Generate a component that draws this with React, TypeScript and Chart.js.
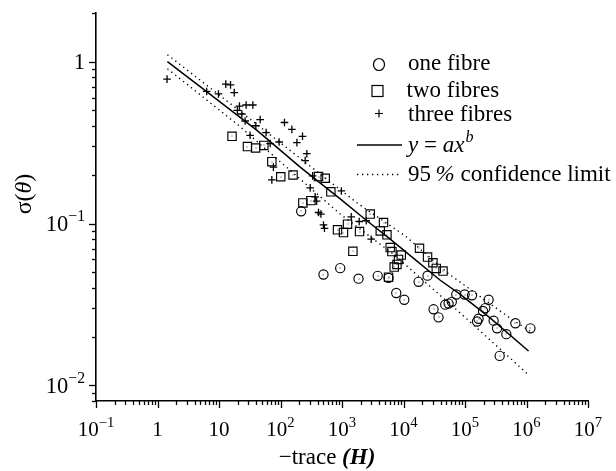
import React, { useEffect, useRef } from 'react';
import { Chart, registerables } from 'chart.js';

Chart.register(...registerables);

// ---- data ----
const oneFibreX = [217, 500, 935, 1855, 3810, 5710, 7620, 10300, 17600, 24600, 30800, 37100, 47700, 54100, 61000, 72100, 98600, 130000, 242000, 214000, 196000, 166000, 157000, 292000, 332000, 470000, 659000, 1160000, 366000];
const oneFibreY = [0.119, 0.0484, 0.053, 0.0456, 0.0475, 0.0461, 0.0372, 0.0338, 0.0436, 0.0476, 0.0295, 0.0263, 0.0315, 0.032, 0.0328, 0.0364, 0.0364, 0.036, 0.0338, 0.030, 0.0288, 0.0258, 0.0248, 0.0251, 0.0225, 0.0207, 0.0242, 0.0225, 0.0152];

const twoFibresX = [16.3, 29, 39.4, 53.6, 72.3, 101, 160, 415, 533, 659, 231, 312, 2877, 1230, 845, 1057, 1928, 1503, 4730, 4190, 5380, 6080, 6480, 9190, 8300, 7820, 7060, 5710, 18200, 24600, 30100, 34100, 43900];
const twoFibresY = [0.346, 0.299, 0.293, 0.304, 0.241, 0.1945, 0.1995, 0.195, 0.1905, 0.157, 0.134, 0.1385, 0.1144, 0.099, 0.0914, 0.0879, 0.0892, 0.0673, 0.1014, 0.090, 0.0851, 0.071, 0.0671, 0.0638, 0.060, 0.0559, 0.0538, 0.0466, 0.0703, 0.062, 0.0572, 0.0528, 0.0508];

const threeFibresX = [1.43, 6.3, 9.8, 12.9, 15.4, 17.7, 21.5, 27.6, 35.5, 19.9, 23.5, 26.6, 46.7, 39.7, 58.3, 32, 116, 153, 228, 185, 95, 268, 252, 76.7, 72.3, 333, 304, 977, 366, 387, 415, 454, 500, 519, 1413, 1905, 2477, 2985, 68];
const threeFibresY = [0.78, 0.655, 0.632, 0.727, 0.719, 0.644, 0.532, 0.54, 0.54, 0.50, 0.475, 0.43, 0.439, 0.402, 0.365, 0.351, 0.421, 0.382, 0.346, 0.316, 0.319, 0.27, 0.245, 0.223, 0.186, 0.197, 0.166, 0.159, 0.146, 0.1375, 0.117, 0.1144, 0.098, 0.0934, 0.110, 0.1029, 0.104, 0.080, 0.312];

const fitX = [1.45, 6.3, 41, 209, 935, 2540, 6080, 16560, 39600, 83800, 258000, 1080000];
const fitY = [1.0, 0.653, 0.378, 0.223, 0.142, 0.104, 0.080, 0.0586, 0.0446, 0.0365, 0.026, 0.0163];

const upperX = [1.45, 20.7, 1855, 10700, 54100, 513000, 1160000];
const upperY = [1.105, 0.503, 0.132, 0.0838, 0.0489, 0.0264, 0.0215];

const lowerX = [1.45, 20.7, 935, 6890, 81700, 513000, 1120000];
const lowerY = [0.905, 0.405, 0.1144, 0.0645, 0.0282, 0.01502, 0.01145];

const xTickValues = [0.1, 1, 10, 100, 1e3, 1e4, 1e5, 1e6, 1e7];
const xTickLabels = ['10^\u22121', '1', '10', '10^2', '10^3', '10^4', '10^5', '10^6', '10^7'];
const yTickValues = [0.01, 0.1, 1];
const yTickLabels = ['10^\u22122', '10^\u22121', '1'];

const legendLabels = ['one fibre', 'two fibres', 'three fibres', 'y = ax^b', '95 % confidence limit'];

const FONT = "'Liberation Serif', 'Times New Roman', serif";

const pts = (xs: number[], ys: number[]) => xs.map((x, i) => ({ x, y: ys[i] }));

function drawSupLabel(ctx: CanvasRenderingContext2D, label: string, x: number, baseline: number, align: 'center' | 'right', fs: number) {
  const [base, exp] = label.split('^');
  ctx.font = `${fs}px ${FONT}`;
  const wb = ctx.measureText(base).width;
  const efs = fs * 0.7;
  let we = 0;
  if (exp) {
    ctx.font = `${efs}px ${FONT}`;
    we = ctx.measureText(exp).width;
  }
  const total = wb + we;
  const start = align === 'center' ? x - total / 2 : x - total;
  ctx.textAlign = 'left';
  ctx.textBaseline = 'alphabetic';
  ctx.font = `${fs}px ${FONT}`;
  ctx.fillText(base, start, baseline);
  if (exp) {
    ctx.font = `${efs}px ${FONT}`;
    ctx.fillText(exp, start + wb, baseline - fs * 0.42);
  }
}

function drawRuns(ctx: CanvasRenderingContext2D, runs: { t: string; f: string }[], x: number, baseline: number, align: 'left' | 'center') {
  let total = 0;
  const widths = runs.map((r) => {
    ctx.font = r.f;
    const w = ctx.measureText(r.t).width;
    total += w;
    return w;
  });
  let cx = align === 'center' ? x - total / 2 : x;
  ctx.textAlign = 'left';
  ctx.textBaseline = 'alphabetic';
  runs.forEach((r, i) => {
    ctx.font = r.f;
    ctx.fillText(r.t, cx, baseline);
    cx += widths[i];
  });
  return cx;
}

const overlayPlugin = {
  id: 'overlay',
  afterDraw(chart: any) {
    const ctx: CanvasRenderingContext2D = chart.ctx;
    const xs = chart.scales.x;
    const ys = chart.scales.y;
    const area = chart.chartArea;
    ctx.save();
    ctx.strokeStyle = '#000';
    ctx.fillStyle = '#000';

    // centre dots of circle/square markers
    [0, 1].forEach((di) => {
      const meta = chart.getDatasetMeta(di);
      meta.data.forEach((el: any) => {
        ctx.fillStyle = '#333';
        ctx.fillRect(Math.round(el.x) - 0.5, Math.round(el.y) - 0.5, 1, 1);
      });
    });
    ctx.fillStyle = '#000';

    // axis ticks
    ctx.lineWidth = 1.3;
    const xMin = xs.min, xMax = xs.max, yMin = ys.min, yMax = ys.max;
    for (let d = -1; d <= 7; d++) {
      for (let m = 1; m <= 9; m++) {
        const v = m * Math.pow(10, d);
        if (v < xMin * 0.999 || v > xMax * 1.001) continue;
        const px = Math.round(xs.getPixelForValue(v)) + 0.5;
        const len = m === 1 ? 7 : 4;
        ctx.beginPath();
        ctx.moveTo(px, area.bottom);
        ctx.lineTo(px, area.bottom + len);
        ctx.stroke();
      }
    }
    for (let d = -3; d <= 0; d++) {
      for (let m = 1; m <= 9; m++) {
        const v = m * Math.pow(10, d);
        if (v < yMin * 0.999 || v > yMax * 1.001) continue;
        const py = Math.round(ys.getPixelForValue(v)) + 0.5;
        const len = m === 1 ? 7 : 4;
        ctx.beginPath();
        ctx.moveTo(area.left, py);
        ctx.lineTo(area.left - len, py);
        ctx.stroke();
      }
    }

    // tick labels
    xTickValues.forEach((v, i) => {
      drawSupLabel(ctx, xTickLabels[i], xs.getPixelForValue(v), area.bottom + 35, 'center', 21);
    });
    yTickValues.forEach((v, i) => {
      drawSupLabel(ctx, yTickLabels[i], area.left - 11, ys.getPixelForValue(v) + 22.5 * 0.33, 'right', 22.5);
    });

    // axis titles
    const afs = 23;
    drawRuns(ctx, [
      { t: '\u2212trace ', f: `${afs}px ${FONT}` },
      { t: '(H)', f: `italic bold ${afs}px ${FONT}` },
    ], 327, 464, 'center');
    ctx.save();
    ctx.translate(31, 194);
    ctx.rotate(-Math.PI / 2);
    drawRuns(ctx, [
      { t: '\u03C3(', f: `${afs + 1}px ${FONT}` },
      { t: '\u03B8', f: `italic ${afs + 1}px ${FONT}` },
      { t: ')', f: `${afs + 1}px ${FONT}` },
    ], 0, 0, 'center');
    ctx.restore();

    // legend
    const lfs = 23;
    const lf = `${lfs}px ${FONT}`;
    const lfi = `italic ${lfs}px ${FONT}`;
    const tx = 408;
    ctx.lineWidth = 1.2;
    // circle
    ctx.beginPath();
    ctx.ellipse(379, 64.5, 5.5, 6, 0, 0, Math.PI * 2);
    ctx.stroke();
    drawRuns(ctx, [{ t: legendLabels[0], f: lf }], tx, 70, 'left');
    // square
    ctx.strokeRect(372, 85.5, 11, 11);
    drawRuns(ctx, [{ t: legendLabels[1], f: lf }], tx - 1.5, 96.5, 'left');
    // plus
    ctx.beginPath();
    ctx.moveTo(375, 113.5); ctx.lineTo(383, 113.5);
    ctx.moveTo(379, 109.5); ctx.lineTo(379, 117.5);
    ctx.stroke();
    drawRuns(ctx, [{ t: legendLabels[2], f: lf }], tx, 120.5, 'left');
    // fit line
    ctx.lineWidth = 1.5;
    ctx.beginPath();
    ctx.moveTo(357, 145); ctx.lineTo(402, 145);
    ctx.stroke();
    const [main, sup] = legendLabels[3].split('^');
    const endX = drawRuns(ctx, [
      { t: 'y', f: lfi },
      { t: ' = ', f: lf },
      { t: main.replace('y = ', ''), f: lfi },
    ], tx, 152, 'left');
    ctx.font = `italic ${lfs * 0.7}px ${FONT}`;
    ctx.fillText(sup, endX + 1, 152 - lfs * 0.45);
    // dotted line
    ctx.lineWidth = 1.4;
    ctx.setLineDash([1.3, 3.7]);
    ctx.beginPath();
    ctx.moveTo(357, 174.5); ctx.lineTo(402, 174.5);
    ctx.stroke();
    ctx.setLineDash([]);
    const parts = legendLabels[4].split(' % ');
    drawRuns(ctx, [
      { t: parts[0] + '\u2009', f: lf },
      { t: '%', f: lfi },
      { t: ' ' + parts[1], f: lf },
    ], tx, 180.5, 'left');

    ctx.restore();
  },
};

export default function App() {
  const canvasRef = useRef<HTMLCanvasElement | null>(null);

  useEffect(() => {
    const canvas = canvasRef.current;
    if (!canvas) return;
    const chart = new Chart(canvas, {
      type: 'scatter',
      data: {
        datasets: [
          {
            label: 'one fibre',
            data: pts(oneFibreX, oneFibreY),
            pointStyle: 'circle',
            pointRadius: 4.6,
            borderColor: '#000',
            backgroundColor: 'rgba(0,0,0,0)',
            borderWidth: 1.15,
          },
          {
            label: 'two fibres',
            data: pts(twoFibresX, twoFibresY),
            pointStyle: 'rect',
            pointRadius: 5.9,
            borderColor: '#000',
            backgroundColor: 'rgba(0,0,0,0)',
            borderWidth: 1.15,
          },
          {
            label: 'three fibres',
            data: pts(threeFibresX, threeFibresY),
            pointStyle: 'cross',
            pointRadius: 3.8,
            borderColor: '#000',
            backgroundColor: '#000',
            borderWidth: 1.3,
          },
          {
            label: 'y = ax^b',
            data: pts(fitX, fitY),
            showLine: true,
            pointRadius: 0,
            borderColor: '#000',
            borderWidth: 1.5,
          },
          {
            label: 'upper',
            data: pts(upperX, upperY),
            showLine: true,
            pointRadius: 0,
            borderColor: '#000',
            borderWidth: 1.4,
            borderDash: [1.3, 3.7],
          },
          {
            label: 'lower',
            data: pts(lowerX, lowerY),
            showLine: true,
            pointRadius: 0,
            borderColor: '#000',
            borderWidth: 1.4,
            borderDash: [1.3, 3.7],
          },
        ],
      },
      options: {
        responsive: false,
        maintainAspectRatio: false,
        animation: false,
        devicePixelRatio: 1,
        layout: { padding: { left: 0, right: 28, top: 13, bottom: 0 } },
        plugins: {
          legend: { display: false },
          tooltip: { enabled: false },
          title: { display: false },
        },
        scales: {
          x: {
            type: 'logarithmic',
            min: 0.1,
            max: 1e7,
            grid: { display: false },
            ticks: { display: false },
            border: { display: true, color: '#000', width: 1.6 },
            afterFit: (s: any) => { s.height = 70; },
          },
          y: {
            type: 'logarithmic',
            min: 0.008,
            max: 2.0,
            grid: { display: false },
            ticks: { display: false },
            border: { display: true, color: '#000', width: 1.6 },
            afterFit: (s: any) => { s.width = 96; },
          },
        },
      },
      plugins: [overlayPlugin],
    } as any);
    return () => chart.destroy();
  }, []);

  return (
    <div style={{ position: 'fixed', left: 0, top: 0, width: 616, height: 471, background: '#fff' }}>
      <canvas ref={canvasRef} width={616} height={471} style={{ width: 616, height: 471, display: 'block' }} />
    </div>
  );
}
